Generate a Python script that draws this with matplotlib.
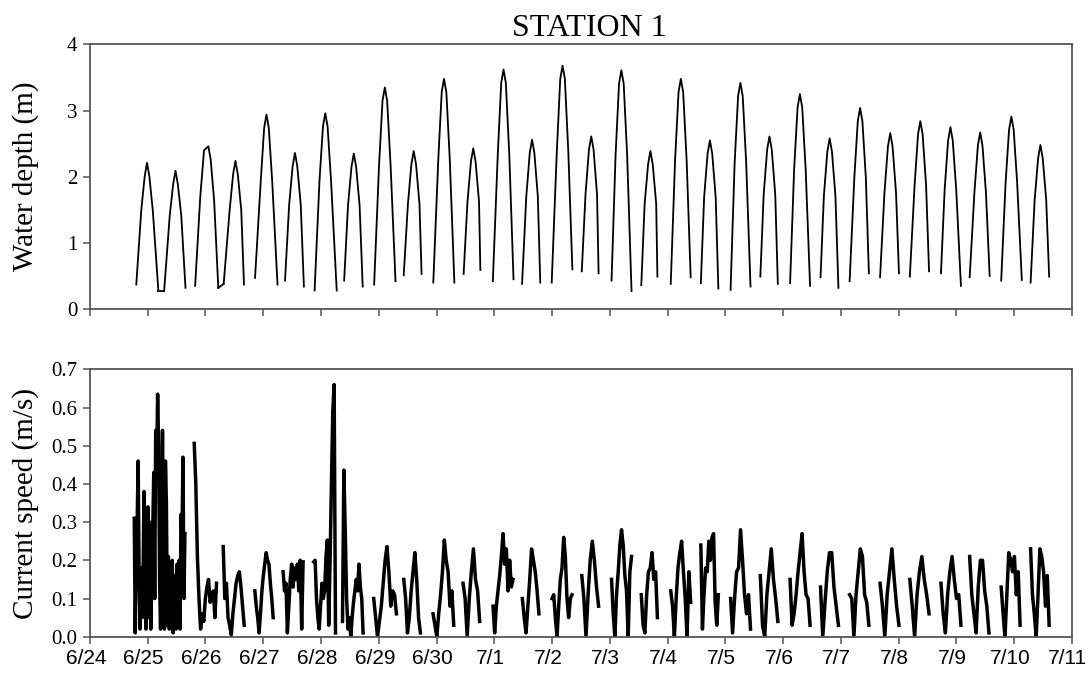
import numpy as np
import matplotlib.pyplot as plt
import matplotlib.transforms as mtransforms

# x axis: days after 6/24 00:00
day_labels = ['6/24', '6/25', '6/26', '6/27', '6/28', '6/29', '6/30', '7/1', '7/2',
              '7/3', '7/4', '7/5', '7/6', '7/7', '7/8', '7/9', '7/10', '7/11']

# Water depth (m), one tidal cycle per entry:
# start, outer rise, inner rise, peak, inner fall, outer fall, end
t_start = [0.802, 1.284, 1.821, 2.315, 2.858, 3.377, 3.889, 4.401, 4.920, 5.432, 5.944,
           6.469, 6.975, 7.481, 7.994, 8.515, 9.030, 9.545, 10.055, 10.576, 11.091,
           11.606, 12.121, 12.648, 13.152, 13.679, 14.194, 14.733, 15.230, 15.776, 16.285]
d_start = [0.37, 0.27, 0.35, 0.38, 0.47, 0.43, 0.28, 0.43, 0.37, 0.51, 0.40,
           0.53, 0.42, 0.38, 0.40, 0.57, 0.43, 0.36, 0.38, 0.39, 0.29,
           0.49, 0.39, 0.48, 0.42, 0.48, 0.49, 0.54, 0.48, 0.43, 0.40]
t_rise2 = [0.888, 1.381, 1.910, 2.419, 2.956, 3.449, 3.974, 4.468, 5.005, 5.505, 6.030,
           6.536, 7.060, 7.554, 8.082, 8.579, 9.100, 9.603, 10.130, 10.633, 11.161,
           11.664, 12.191, 12.706, 13.233, 13.755, 14.276, 14.797, 15.312, 15.852, 16.355]
d_rise2 = [1.49, 1.41, 1.70, 1.50, 1.92, 1.58, 1.94, 1.57, 2.17, 1.59, 2.25,
           1.62, 2.33, 1.70, 2.37, 1.73, 2.33, 1.59, 2.25, 1.69, 2.21,
           1.73, 2.11, 1.71, 1.98, 1.76, 1.86, 1.81, 1.76, 1.91, 1.65]
t_rise = [0.948, 1.441, 1.975, 2.479, 3.016, 3.509, 4.034, 4.528, 5.065, 5.565, 6.090,
          6.596, 7.120, 7.614, 8.142, 8.639, 9.160, 9.663, 10.190, 10.693, 11.221,
          11.724, 12.251, 12.766, 13.293, 13.815, 14.336, 14.857, 15.372, 15.912, 16.415]
d_rise = [2.01, 1.89, 2.40, 2.04, 2.74, 2.16, 2.76, 2.15, 3.15, 2.19, 3.28,
          2.23, 3.42, 2.36, 3.48, 2.41, 3.41, 2.19, 3.28, 2.35, 3.22,
          2.41, 3.05, 2.38, 2.84, 2.46, 2.64, 2.55, 2.47, 2.71, 2.28]
t_peak = [0.988, 1.481, 2.050, 2.519, 3.056, 3.549, 4.074, 4.568, 5.105, 5.605, 6.130,
          6.636, 7.160, 7.654, 8.182, 8.679, 9.200, 9.703, 10.230, 10.733, 11.261,
          11.764, 12.291, 12.806, 13.333, 13.855, 14.376, 14.897, 15.412, 15.952, 16.455]
d_peak = [2.21, 2.09, 2.46, 2.24, 2.94, 2.36, 2.96, 2.35, 3.35, 2.39, 3.48,
          2.43, 3.62, 2.56, 3.68, 2.61, 3.61, 2.39, 3.48, 2.55, 3.42,
          2.61, 3.25, 2.58, 3.04, 2.66, 2.84, 2.75, 2.67, 2.91, 2.48]
t_fall = [1.028, 1.521, 2.090, 2.559, 3.096, 3.589, 4.114, 4.608, 5.145, 5.645, 6.170,
          6.676, 7.200, 7.694, 8.222, 8.719, 9.240, 9.743, 10.270, 10.773, 11.301,
          11.804, 12.331, 12.846, 13.373, 13.895, 14.416, 14.937, 15.452, 15.992, 16.495]
d_fall = [2.01, 1.89, 2.26, 2.04, 2.74, 2.16, 2.76, 2.15, 3.15, 2.19, 3.28,
          2.23, 3.42, 2.36, 3.48, 2.41, 3.41, 2.19, 3.28, 2.35, 3.22,
          2.41, 3.05, 2.38, 2.84, 2.46, 2.64, 2.55, 2.47, 2.71, 2.28]
t_fall2 = [1.088, 1.581, 2.150, 2.619, 3.156, 3.649, 4.174, 4.668, 5.205, 5.705, 6.230,
           6.736, 7.260, 7.754, 8.282, 8.779, 9.300, 9.803, 10.330, 10.833, 11.361,
           11.864, 12.391, 12.906, 13.433, 13.955, 14.476, 14.997, 15.512, 16.052, 16.555]
d_fall2 = [1.49, 1.41, 1.64, 1.50, 1.92, 1.58, 1.94, 1.57, 2.17, 1.59, 2.25,
           1.62, 2.33, 1.70, 2.37, 1.73, 2.33, 1.59, 2.25, 1.69, 2.21,
           1.73, 2.11, 1.71, 1.98, 1.76, 1.86, 1.81, 1.76, 1.91, 1.65]
t_end = [1.185, 1.654, 2.222, 2.667, 3.247, 3.704, 4.272, 4.722, 5.290, 5.741, 6.309,
         6.759, 7.333, 7.796, 8.352, 8.806, 9.376, 9.824, 10.400, 10.879, 11.436,
         11.909, 12.467, 12.958, 13.485, 14.006, 14.527, 15.079, 15.576, 16.133, 16.606]
d_end = [0.27, 0.32, 0.32, 0.37, 0.37, 0.34, 0.28, 0.34, 0.42, 0.53, 0.40,
         0.59, 0.45, 0.40, 0.60, 0.54, 0.27, 0.49, 0.48, 0.31, 0.34,
         0.38, 0.35, 0.32, 0.54, 0.54, 0.57, 0.35, 0.50, 0.44, 0.49]

# Current speed (m/s), one logged burst per entry, evenly sampled between start and end
speed_start = [0.767, 1.805, 2.307, 2.855, 3.344, 3.875, 4.372, 4.913, 5.433, 5.940,
               6.459, 6.978, 7.486, 8.000, 8.515, 9.030, 9.545, 10.055, 10.576, 11.091,
               11.606, 12.121, 12.648, 13.152, 13.679, 14.194, 14.733, 15.230, 15.776, 16.285]
speed_end = [1.644, 2.191, 2.670, 3.172, 3.690, 4.251, 4.729, 5.306, 5.721, 6.298,
             6.747, 7.324, 7.773, 8.345, 8.806, 9.376, 9.824, 10.400, 10.879, 11.436,
             11.909, 12.467, 12.958, 13.485, 14.006, 14.527, 15.079, 15.564, 16.103, 16.606]
speed_vals = [
    [0.31, 0.01, 0.20, 0.30, 0.46, 0.15, 0.02, 0.18, 0.05, 0.15, 0.38, 0.10, 0.02, 0.25,
     0.34, 0.05, 0.30, 0.02, 0.15, 0.28, 0.43, 0.10, 0.54, 0.45, 0.635, 0.50, 0.15, 0.02,
     0.20, 0.54, 0.10, 0.02, 0.46, 0.35, 0.03, 0.21, 0.02, 0.18, 0.05, 0.20, 0.01, 0.12,
     0.16, 0.02, 0.19, 0.05, 0.20, 0.02, 0.32, 0.25, 0.47, 0.10, 0.27],
    [0.506, 0.40, 0.21, 0.10, 0.02, 0.06, 0.04, 0.10, 0.13, 0.15, 0.09, 0.11, 0.12, 0.05, 0.14],
    [0.236, 0.10, 0.14, 0.05, 0.03, 0.005, 0.06, 0.10, 0.14, 0.16, 0.17, 0.13, 0.08, 0.03],
    [0.12, 0.08, 0.05, 0.01, 0.06, 0.12, 0.16, 0.19, 0.22, 0.20, 0.19, 0.14, 0.10, 0.05],
    [0.17, 0.12, 0.14, 0.01, 0.08, 0.15, 0.19, 0.13, 0.18, 0.15, 0.19, 0.12, 0.20, 0.02, 0.196],
    [0.196, 0.20, 0.10, 0.05, 0.02, 0.08, 0.14, 0.10, 0.12, 0.21, 0.253, 0.03, 0.20, 0.40,
     0.59, 0.66, 0.01],
    [0.04, 0.436, 0.28, 0.10, 0.02, 0.05, 0.0, 0.05, 0.09, 0.12, 0.15, 0.12, 0.19, 0.13, 0.10, 0.01],
    [0.10, 0.05, 0.0, 0.04, 0.08, 0.14, 0.20, 0.236, 0.17, 0.08, 0.12, 0.11, 0.06],
    [0.15, 0.10, 0.01, 0.05, 0.12, 0.17, 0.22, 0.15, 0.05, 0.01],
    [0.06, 0.03, 0.0, 0.06, 0.11, 0.17, 0.253, 0.20, 0.17, 0.08, 0.12, 0.03],
    [0.14, 0.10, 0.0, 0.10, 0.17, 0.23, 0.15, 0.12, 0.04],
    [0.08, 0.01, 0.08, 0.12, 0.16, 0.21, 0.27, 0.19, 0.23, 0.12, 0.20, 0.13, 0.15],
    [0.10, 0.05, 0.01, 0.08, 0.15, 0.23, 0.20, 0.17, 0.12, 0.06],
    [0.10, 0.11, 0.05, 0.0, 0.08, 0.15, 0.18, 0.26, 0.21, 0.10, 0.05, 0.10, 0.11],
    [0.16, 0.10, 0.0, 0.11, 0.20, 0.25, 0.20, 0.13, 0.08],
    [0.15, 0.06, 0.0, 0.11, 0.17, 0.24, 0.28, 0.24, 0.16, 0.12, 0.0, 0.17, 0.21],
    [0.11, 0.03, 0.01, 0.11, 0.17, 0.18, 0.22, 0.15, 0.17, 0.05],
    [0.12, 0.08, 0.0, 0.10, 0.18, 0.22, 0.25, 0.17, 0.10, 0.0, 0.17, 0.09],
    [0.24, 0.02, 0.11, 0.18, 0.17, 0.25, 0.20, 0.26, 0.27, 0.09, 0.03, 0.11],
    [0.10, 0.01, 0.10, 0.17, 0.18, 0.28, 0.20, 0.11, 0.06, 0.11, 0.02],
    [0.16, 0.03, 0.0, 0.11, 0.17, 0.23, 0.15, 0.10, 0.04],
    [0.15, 0.03, 0.06, 0.11, 0.17, 0.22, 0.27, 0.17, 0.11, 0.10, 0.03],
    [0.13, 0.0, 0.09, 0.17, 0.22, 0.22, 0.13, 0.08, 0.03],
    [0.11, 0.10, 0.0, 0.11, 0.17, 0.23, 0.21, 0.11, 0.09, 0.03],
    [0.14, 0.08, 0.0, 0.11, 0.17, 0.23, 0.15, 0.08, 0.03],
    [0.15, 0.08, 0.0, 0.11, 0.17, 0.21, 0.15, 0.11, 0.06],
    [0.14, 0.06, 0.01, 0.11, 0.17, 0.21, 0.15, 0.10, 0.11, 0.03],
    [0.21, 0.11, 0.06, 0.01, 0.13, 0.20, 0.20, 0.12, 0.08, 0.01],
    [0.13, 0.06, 0.0, 0.11, 0.22, 0.20, 0.17, 0.21, 0.11, 0.17, 0.03],
    [0.23, 0.11, 0.06, 0.0, 0.11, 0.23, 0.21, 0.17, 0.08, 0.16, 0.03],
]

serif = 'Liberation Serif'
sans = 'Liberation Sans'
frame = '#555555'

fig = plt.figure(figsize=(10.89, 6.76), dpi=100)
ax1 = fig.add_axes([0.0826, 0.5429, 0.9017, 0.3913])
ax2 = fig.add_axes([0.0826, 0.0581, 0.9017, 0.3956])

# top panel: water depth
for i in range(len(t_start)):
    ax1.plot([t_start[i], t_rise2[i], t_rise[i], t_peak[i], t_fall[i], t_fall2[i], t_end[i]],
             [d_start[i], d_rise2[i], d_rise[i], d_peak[i], d_fall[i], d_fall2[i], d_end[i]],
             color='black', lw=1.3)
    # the first two cycles are not split at low water
    if i + 1 < len(t_start) and t_start[i + 1] - t_end[i] < 0.12:
        ax1.plot([t_end[i], t_start[i + 1]], [d_end[i], d_start[i + 1]], color='black', lw=1.3)

# bottom panel: current speed
for i in range(len(speed_vals)):
    t = np.linspace(speed_start[i], speed_end[i], len(speed_vals[i]))
    ax2.plot(t, speed_vals[i], color='black', lw=2.5)

ax1.set_xlim(0, 17)
ax1.set_ylim(0, 4)
ax1.set_yticks([0, 1, 2, 3, 4])
ax1.set_xticks(range(18))
ax1.set_xticklabels([])
ax1.set_ylabel('Water depth (m)', family=serif, fontsize=21)
ax1.yaxis.set_label_coords(-0.052, 0.5)

ax2.set_xlim(0, 17)
ax2.set_ylim(0, 0.7)
ax2.set_yticks([0, 0.1, 0.2, 0.3, 0.4, 0.5, 0.6, 0.7])
ax2.set_yticklabels(['0.0', '0.1', '0.2', '0.3', '0.4', '0.5', '0.6', '0.7'])
ax2.set_xticks(range(18))
ax2.set_xticklabels(day_labels)
ax2.set_ylabel('Current speed (m/s)', family=serif, fontsize=21)
ax2.yaxis.set_label_coords(-0.052, 0.5)

for ax in (ax1, ax2):
    for s in ax.spines.values():
        s.set_color(frame)
        s.set_linewidth(1.3)
    ax.tick_params(direction='out', length=5, width=1.1, color=frame, pad=4)
    for lab in ax.get_yticklabels():
        lab.set_family(serif)
        lab.set_fontsize(15)

# date labels sit a little left of their ticks in the original
shift = mtransforms.ScaledTranslation(-0.04, 0, fig.dpi_scale_trans)
for lab in ax2.get_xticklabels():
    lab.set_family(sans)
    lab.set_fontsize(15)
    lab.set_transform(lab.get_transform() + shift)

fig.text(0.541, 0.958, 'STATION 1', family=serif, fontsize=23, ha='center', va='center')

fig.savefig('out.png', dpi=100)
